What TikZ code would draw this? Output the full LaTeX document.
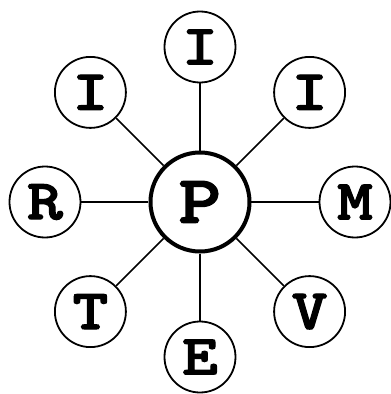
\documentclass[tikz,border=0pt]{standalone}
\usepackage{fontspec}
\newfontfamily\heavymono{lmmonolt10-bold}[Extension=.otf, FakeBold=2, FakeStretch=1.2]
\usetikzlibrary{positioning}

\begin{document}
\begin{tikzpicture}[
        x=1pt, y=1pt,
        leaf/.style={draw, circle, line width=1.8pt, minimum size=71pt, inner sep=0pt,
            font=\heavymono\fontsize{57}{57}\selectfont},
        hub/.style={draw, circle, line width=4pt, minimum size=99pt, inner sep=0pt,
            font=\heavymono\fontsize{68}{68}\selectfont},
        spoke/.style={line width=1.5pt}
    ]
        \useasboundingbox (-200,-192) rectangle (191,202);

        % Hub
        \node[hub] (p) at (0,0) {P};

        % Ring of letters
        \node[leaf] (itop) at (90:155pt) {I};
        \node[leaf] (ileft) at (135:155pt) {I};
        \node[leaf] (iright) at (45:155pt) {I};
        \node[leaf] (r) at (180:155pt) {R};
        \node[leaf] (m) at (0:155pt) {M};
        \node[leaf] (t) at (225:155pt) {T};
        \node[leaf] (e) at (270:155pt) {E};
        \node[leaf] (v) at (315:155pt) {V};

        % Spokes
        \foreach \n in {itop, ileft, iright, r, m, t, e, v} {
            \draw[spoke] (p) -- (\n);
        }

    \end{tikzpicture}
\end{document}
